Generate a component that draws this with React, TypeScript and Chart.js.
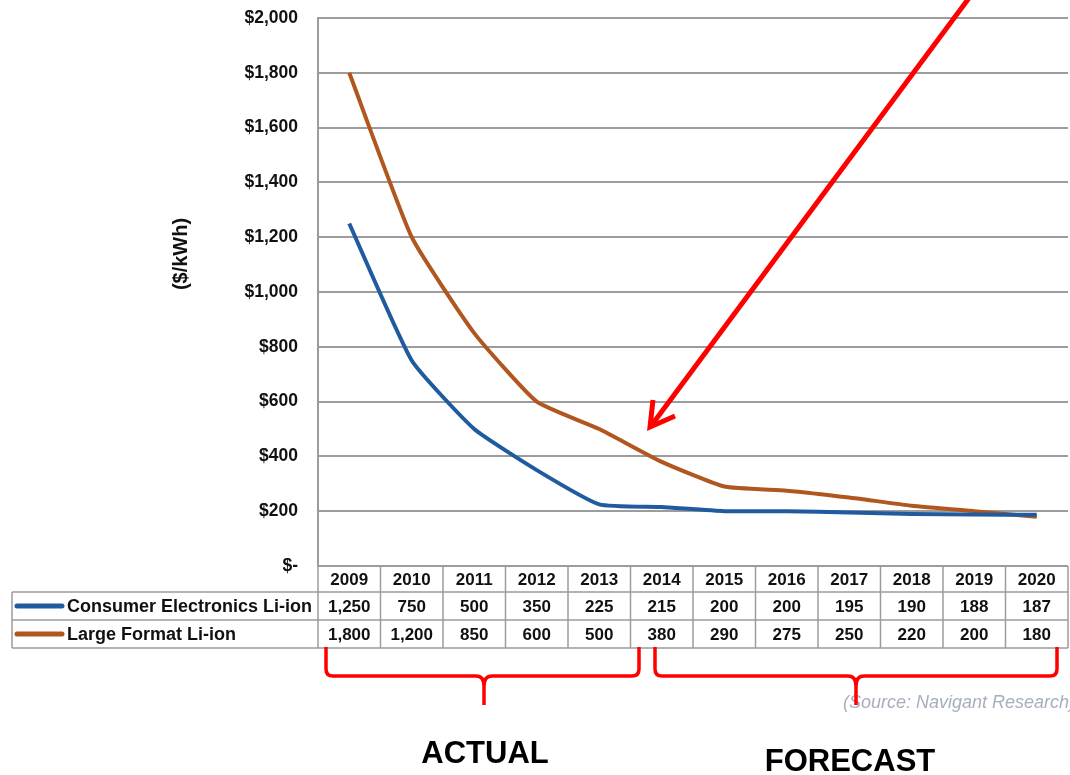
import React, { useEffect, useRef } from "react";
import { Chart, registerables } from "chart.js";

Chart.register(...registerables);

const years = ["2009", "2010", "2011", "2012", "2013", "2014", "2015", "2016", "2017", "2018", "2019", "2020"];
const consumerElectronics = [1250, 750, 500, 350, 225, 215, 200, 200, 195, 190, 188, 187];
const largeFormat = [1800, 1200, 850, 600, 500, 380, 290, 275, 250, 220, 200, 180];
const seriesNames = ["Consumer Electronics Li-ion", "Large Format Li-ion"];
const seriesColors = ["#1F5B9E", "#B0571F"];
const yMax = 2000;
const yStep = 200;

const FONT = "'Liberation Sans', Arial, sans-serif";
const RED = "#FF0000";

const fmt = (v: number) => v.toLocaleString("en-US");

// Draws the data table under the plot plus the callouts (arrow, braces, labels)
const tableAndNotes = {
  id: "tableAndNotes",
  afterDraw(chart: any) {
    const ctx: CanvasRenderingContext2D = chart.ctx;
    const area = chart.chartArea;
    const xs = chart.scales.x;
    const n = years.length;
    const colW = (area.right - area.left) / n;
    const top = area.bottom;
    const r1 = top + 26;
    const r2 = r1 + 28;
    const r3 = r2 + 28;
    const tableLeft = 12;

    ctx.save();
    ctx.strokeStyle = "#9C9C9C";
    ctx.lineWidth = 1.5;
    ctx.beginPath();
    ctx.moveTo(area.left, top);
    ctx.lineTo(area.right, top);
    for (const y of [r1, r2, r3]) {
      ctx.moveTo(tableLeft, y);
      ctx.lineTo(area.right, y);
    }
    ctx.moveTo(tableLeft, r1);
    ctx.lineTo(tableLeft, r3);
    for (let k = 0; k <= n; k++) {
      const x = area.left + k * colW;
      ctx.moveTo(x, top);
      ctx.lineTo(x, r3);
    }
    ctx.stroke();

    ctx.fillStyle = "#111";
    ctx.font = `bold 17px ${FONT}`;
    ctx.textAlign = "center";
    ctx.textBaseline = "middle";
    years.forEach((yr, i) => {
      const cx = xs.getPixelForValue(i);
      ctx.fillText(yr, cx, (top + r1) / 2 + 1);
      ctx.fillText(fmt(consumerElectronics[i]), cx, (r1 + r2) / 2 + 1);
      ctx.fillText(fmt(largeFormat[i]), cx, (r2 + r3) / 2 + 1);
    });

    // legend keys inside the table
    [[r1, r2], [r2, r3]].forEach(([a, b], j) => {
      const cy = (a + b) / 2;
      ctx.strokeStyle = seriesColors[j];
      ctx.lineWidth = 5;
      ctx.lineCap = "round";
      ctx.beginPath();
      ctx.moveTo(17, cy);
      ctx.lineTo(62, cy);
      ctx.stroke();
      ctx.fillStyle = "#111";
      ctx.font = `bold 18px ${FONT}`;
      ctx.textAlign = "left";
      ctx.fillText(seriesNames[j], 67, cy + 1);
    });

    // y axis title
    ctx.save();
    ctx.translate(181, 254);
    ctx.rotate(-Math.PI / 2);
    ctx.font = `bold 20px ${FONT}`;
    ctx.textAlign = "center";
    ctx.textBaseline = "middle";
    ctx.fillStyle = "#111";
    ctx.fillText("($/kWh)", 0, 0);
    ctx.restore();

    // red arrow
    ctx.strokeStyle = RED;
    ctx.lineWidth = 5;
    ctx.lineCap = "butt";
    ctx.lineJoin = "miter";
    ctx.beginPath();
    ctx.moveTo(969, -2);
    ctx.lineTo(651, 426);
    ctx.stroke();
    ctx.beginPath();
    ctx.moveTo(653, 400);
    ctx.lineTo(650, 427);
    ctx.lineTo(675, 416);
    ctx.stroke();

    // braces
    const brace = (x1: number, x2: number, cx: number) => {
      const t = 647, h = 676, b = 705, r = 7;
      ctx.beginPath();
      ctx.moveTo(x1, t);
      ctx.lineTo(x1, h - r);
      ctx.quadraticCurveTo(x1, h, x1 + r, h);
      ctx.lineTo(cx - 8, h);
      ctx.quadraticCurveTo(cx, h, cx, h + 10);
      ctx.lineTo(cx, b);
      ctx.moveTo(cx, h + 10);
      ctx.quadraticCurveTo(cx, h, cx + 8, h);
      ctx.lineTo(x2 - r, h);
      ctx.quadraticCurveTo(x2, h, x2, h - r);
      ctx.lineTo(x2, t);
      ctx.stroke();
    };
    ctx.lineWidth = 3.5;
    ctx.lineJoin = "round";
    brace(326, 639, 484);
    ctx.fillStyle = "rgba(150,160,178,0.85)";
    ctx.font = `italic 18px ${FONT}`;
    ctx.textAlign = "left";
    ctx.textBaseline = "middle";
    ctx.fillText("(Source: Navigant Research)", 843, 703);
    ctx.strokeStyle = RED;
    ctx.lineWidth = 3.5;
    brace(655, 1057, 856);

    ctx.fillStyle = "#000";
    ctx.font = `bold 31px ${FONT}`;
    ctx.textAlign = "center";
    ctx.fillText("ACTUAL", 485, 754);
    ctx.fillText("FORECAST", 850, 762);
    ctx.restore();
  },
};

export default function App() {
  const ref = useRef<HTMLCanvasElement>(null);

  useEffect(() => {
    if (!ref.current) return;
    const chart = new Chart(ref.current, {
      type: "line",
      data: {
        labels: years,
        datasets: [
          {
            label: seriesNames[0],
            data: consumerElectronics,
            borderColor: seriesColors[0],
            borderWidth: 4,
            pointRadius: 0,
            tension: 0.15,
          },
          {
            label: seriesNames[1],
            data: largeFormat,
            borderColor: seriesColors[1],
            borderWidth: 4,
            pointRadius: 0,
            tension: 0.15,
          },
        ],
      },
      options: {
        responsive: false,
        animation: false,
        layout: { padding: { left: 0, top: 18, right: 2, bottom: 209 } },
        plugins: { legend: { display: false }, tooltip: { enabled: false } },
        scales: {
          x: { type: "category", offset: true, display: false },
          y: {
            min: 0,
            max: yMax,
            afterFit: (s: any) => {
              s.width = 318;
              s.paddingTop = 0;
              s.paddingBottom = 0;
            },
            ticks: {
              stepSize: yStep,
              padding: 20,
              color: "#111",
              font: { family: FONT, size: 17.5, weight: "bold" },
              callback: (v: any) => (Number(v) === 0 ? "$-" : "$" + fmt(Number(v))),
            },
            grid: { color: "#9C9C9C", lineWidth: 2, drawTicks: false },
            border: { display: true, color: "#9C9C9C", width: 2 },
          },
        },
      },
      plugins: [tableAndNotes],
    });
    return () => chart.destroy();
  }, []);

  return (
    <div style={{ position: "fixed", left: 0, top: 0, width: 1070, height: 775, background: "#fff" }}>
      <canvas ref={ref} width={1070} height={775} style={{ display: "block" }} />
    </div>
  );
}
